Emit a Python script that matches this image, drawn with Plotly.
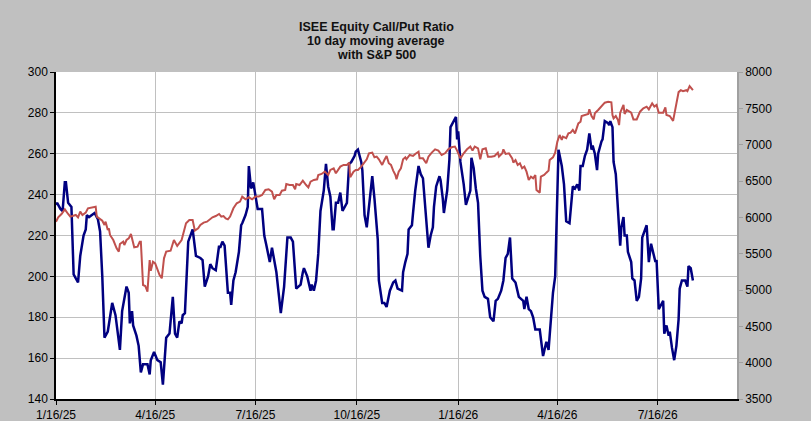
import pandas as pd
import plotly.graph_objects as go

# ISEE equity call/put ratio, 10 day moving average (left axis)
# days counted from 1/16/25
cpr_day = [0, 1, 4, 6, 8, 9, 11, 14, 16, 18, 20, 22, 25, 27, 28, 30, 33, 35, 38, 40,
           42, 44, 47, 51, 54, 58, 60, 64, 66, 67, 69, 70, 73, 75, 77, 79, 83, 85, 86, 89,
           92, 95, 97, 100, 103, 106, 108, 110, 112, 114, 115, 117, 120, 124, 127, 131, 133, 135, 138, 140,
           142, 145, 148, 149, 151, 153, 156, 158, 159, 161, 163, 166, 168, 169, 172, 174, 175, 177, 179, 181,
           183, 187, 189, 191, 194, 196, 198, 200, 202, 204, 207, 210, 213, 215, 218, 222, 224, 225, 228, 231,
           232, 234, 236, 238, 240, 243, 245, 247, 249, 251, 252, 254, 256, 258, 260, 262, 264, 266, 268, 271,
           272, 274, 277, 278, 280, 282, 284, 287, 289, 292, 293, 296, 298, 300, 303, 306, 308, 310, 314, 315,
           317, 319, 320, 323, 324, 326, 329, 331, 333, 336, 338, 340, 342, 343, 345, 348, 349, 351, 352, 355,
           357, 358, 361, 363, 364, 365, 367, 370, 372, 374, 376, 377, 379, 381, 383, 385, 387, 389, 392, 394,
           397, 399, 401, 404, 406, 408, 410, 412, 414, 417, 419, 420, 422, 424, 425, 427, 429, 431, 433, 435,
           439, 442, 445, 447, 451, 453, 455, 456, 459, 461, 463, 466, 469, 471, 473, 475, 476, 478, 480, 482,
           484, 486, 487, 489, 491, 492, 495, 496, 498, 501, 502, 503, 505, 506, 508, 510, 512, 513, 515, 516,
           518, 519, 522, 523, 525, 527, 529, 531, 532, 536, 538, 540, 542, 544, 545, 547, 549, 551, 552, 554,
           556, 557, 559, 561, 563, 565, 566, 568, 571, 573, 574, 576, 578]
cpr_val = [235, 236, 233, 232, 246, 246, 236, 234, 201, 199, 197, 210, 220, 223, 230, 229, 230, 231, 228, 222,
           200, 170, 173, 187, 181, 164, 183, 195, 192, 177, 183, 176, 171, 166, 153, 157, 157, 152, 159, 163,
           159, 158, 147, 170, 172, 190, 172, 170, 178, 177, 181, 182, 217, 223, 210, 209, 208, 195, 200, 206,
           204, 203, 215, 214, 217, 215, 192, 192, 186, 198, 202, 212, 225, 226, 230, 234, 254, 243, 246, 239,
           233, 233, 220, 215, 207, 214, 207, 202, 192, 182, 195, 219, 219, 217, 194, 196, 202, 204, 200, 193,
           196, 193, 198, 211, 232, 242, 255, 244, 239, 223, 223, 236, 236, 241, 232, 234, 236, 255, 256, 259,
           261, 262, 256, 252, 230, 224, 234, 249, 238, 218, 198, 187, 187, 185, 193, 197, 198, 194, 193, 202,
           207, 211, 223, 225, 231, 242, 254, 250, 248, 226, 214, 220, 224, 234, 244, 249, 247, 238, 231, 242,
           257, 273, 276, 278, 267, 271, 256, 245, 235, 238, 242, 258, 253, 243, 236, 210, 193, 190, 189, 180,
           178, 188, 189, 193, 198, 209, 211, 219, 199, 197, 192, 190, 189, 188, 184, 190, 184, 183, 180, 174,
           174, 161, 168, 164, 192, 200, 241, 262, 254, 245, 227, 226, 244, 243, 245, 242, 254, 254, 259, 262,
           270, 262, 264, 260, 252, 260, 266, 267, 276, 275, 274, 276, 273, 256, 250, 231, 215, 224, 229, 220,
           220, 212, 207, 199, 198, 188, 190, 199, 219, 225, 207, 216, 211, 207, 208, 184, 186, 188, 172, 176,
           171, 173, 165, 159, 166, 179, 194, 198, 198, 195, 205, 204, 198]

# S&P 500 (right axis)
spx_day = [0, 2, 5, 8, 11, 13, 15, 18, 20, 22, 24, 27, 29, 33, 36, 37, 39, 42, 44, 45,
           47, 48, 49, 52, 55, 57, 58, 61, 62, 64, 66, 68, 71, 74, 76, 77, 79, 81, 83, 85,
           86, 88, 90, 92, 94, 96, 98, 100, 104, 107, 110, 114, 116, 118, 121, 124, 126, 129, 131, 134,
           137, 140, 142, 145, 148, 150, 152, 154, 156, 158, 161, 164, 167, 169, 172, 175, 178, 181, 184, 187,
           190, 193, 196, 198, 200, 203, 205, 208, 209, 212, 215, 217, 218, 221, 224, 227, 229, 231, 234, 237,
           238, 241, 244, 247, 249, 252, 254, 258, 261, 264, 266, 267, 270, 272, 274, 277, 279, 282, 284, 287,
           289, 291, 293, 296, 298, 300, 302, 304, 306, 308, 309, 311, 313, 315, 317, 318, 321, 324, 326, 329,
           330, 333, 336, 338, 341, 344, 347, 350, 353, 356, 359, 362, 364, 367, 370, 373, 376, 378, 380, 383,
           385, 387, 390, 392, 395, 398, 401, 402, 405, 406, 408, 411, 414, 415, 417, 419, 421, 423, 425, 427,
           429, 431, 433, 435, 436, 439, 440, 443, 445, 447, 448, 451, 453, 455, 457, 459, 460, 463, 465, 467,
           469, 471, 474, 476, 477, 480, 483, 484, 486, 488, 489, 492, 495, 498, 501, 504, 505, 506, 508, 510,
           511, 512, 515, 516, 518, 520, 522, 524, 527, 530, 533, 536, 538, 541, 543, 545, 547, 551, 553, 554,
           557, 560, 563, 565, 567, 569, 572, 573, 575, 576, 578]
spx_val = [5940, 6000, 6046, 6110, 6046, 6009, 6018, 6032, 6000, 6078, 6032, 6064, 6124, 6133, 6147, 6009, 5986, 5954, 5895, 5940,
           5826, 5849, 5757, 5688, 5573, 5528, 5633, 5665, 5619, 5688, 5711, 5771, 5587, 5596, 5665, 5665, 5069, 5055, 4977, 5413,
           5266, 5390, 5367, 5275, 5206, 5161, 5436, 5528, 5541, 5688, 5606, 5688, 5803, 5917, 5963, 5963, 5817, 5849, 5895, 5927,
           5940, 5973, 6000, 6018, 6046, 6009, 6018, 5986, 5973, 6010, 6124, 6193, 6216, 6285, 6248, 6276, 6248, 6285, 6285, 6308,
           6377, 6386, 6354, 6248, 6308, 6308, 6367, 6377, 6459, 6445, 6445, 6386, 6459, 6445, 6505, 6445, 6413, 6491, 6514, 6523,
           6583, 6597, 6629, 6583, 6652, 6675, 6606, 6698, 6721, 6721, 6753, 6551, 6629, 6652, 6652, 6698, 6744, 6799, 6881, 6890,
           6826, 6835, 6799, 6721, 6789, 6844, 6744, 6721, 6643, 6583, 6523, 6629, 6675, 6799, 6826, 6799, 6858, 6844, 6872, 6904,
           6812, 6812, 6744, 6835, 6890, 6936, 6918, 6858, 6881, 6936, 6964, 6973, 6918, 6812, 6881, 6936, 6973, 6918, 6973, 6950,
           6799, 6936, 6950, 6835, 6835, 6844, 6890, 6835, 6881, 6936, 6872, 6881, 6812, 6753, 6789, 6721, 6744, 6675, 6698, 6629,
           6514, 6560, 6537, 6583, 6377, 6340, 6560, 6583, 6615, 6643, 6789, 6826, 6890, 7042, 7133, 7065, 7110, 7088, 7156, 7165,
           7202, 7156, 7293, 7316, 7394, 7408, 7422, 7486, 7394, 7348, 7431, 7477, 7523, 7578, 7591, 7582, 7408, 7362, 7394, 7339,
           7270, 7440, 7546, 7422, 7477, 7454, 7440, 7348, 7348, 7454, 7500, 7523, 7486, 7569, 7523, 7546, 7440, 7440, 7513, 7408,
           7394, 7327, 7586, 7723, 7750, 7736, 7750, 7736, 7805, 7782, 7750]

tick_dates = ["2025-01-16", "2025-04-16", "2025-07-16", "2025-10-16",
              "2026-01-16", "2026-04-16", "2026-07-16"]
tick_text = ["1/16/25", "4/16/25", "7/16/25", "10/16/25", "1/16/26", "4/16/26", "7/16/26"]

start = pd.Timestamp("2025-01-16")
cpr_x = start + pd.to_timedelta(cpr_day, unit="D")
spx_x = start + pd.to_timedelta(spx_day, unit="D")

fig = go.Figure()
fig.add_trace(go.Scatter(x=spx_x, y=spx_val, mode="lines", yaxis="y2",
                         line=dict(color="#C0504D", width=2), name="S&P 500"))
fig.add_trace(go.Scatter(x=cpr_x, y=cpr_val, mode="lines",
                         line=dict(color="#000080", width=2.5), name="ISEE Call/Put 10 dma"))

grid = "#C0C0C0"
tick_font = dict(family="Liberation Sans, Arial, sans-serif", size=12, color="black")

fig.update_layout(
    width=811, height=421, autosize=False,
    paper_bgcolor="#C0C0C0", plot_bgcolor="white",
    margin=dict(l=56, r=74, t=72, b=22),
    showlegend=False,
    xaxis=dict(type="date", range=["2025-01-16", "2026-09-26"],
               tickvals=tick_dates, ticktext=tick_text, tickfont=tick_font,
               showgrid=True, gridcolor=grid, gridwidth=1,
               showline=True, linecolor="black", linewidth=1.5,
               ticks="outside", ticklen=4, tickcolor="black", zeroline=False,
               automargin=False),
    yaxis=dict(range=[140, 300], dtick=20, tickfont=tick_font,
               showgrid=True, gridcolor=grid, gridwidth=1,
               showline=True, linecolor="black", linewidth=1.5,
               ticks="outside", ticklen=4, tickcolor="black", zeroline=False,
               automargin=False),
    yaxis2=dict(range=[3500, 8000], dtick=500, overlaying="y", side="right",
                tickfont=tick_font, showgrid=False,
                showline=True, linecolor="#A0A0A0", linewidth=1.5,
                ticks="outside", ticklen=4, tickcolor="#A0A0A0", zeroline=False,
                automargin=False),
)

title_lines = ["ISEE Equity Call/Put Ratio", "10 day moving average", "with S&P 500"]
title_y = [1.1376, 1.0933, 1.052]
for txt, yy in zip(title_lines, title_y):
    fig.add_annotation(text="<b>" + txt + "</b>", xref="paper", yref="paper",
                       x=0.47, y=yy, showarrow=False, xanchor="center", yanchor="middle",
                       font=dict(family="Liberation Sans, Arial, sans-serif", size=12.5, color="#111111"))

# drop the page's default body margin so the chart sits at the window corner
fig.write_html("out.html", config={"displayModeBar": False},
               post_script="document.body.style.margin='0';")
